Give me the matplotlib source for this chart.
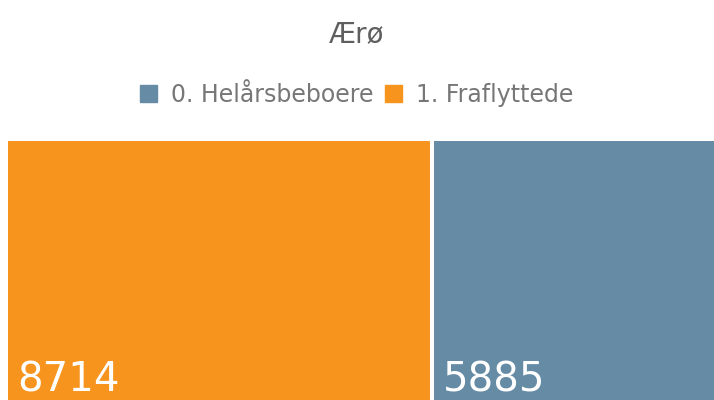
import matplotlib.pyplot as plt
import matplotlib.patches as mpatches
import numpy as np

title = "Ærø"
categories = ["1. Fraflyttede", "0. Helårsbeboere"]
values = [8714, 5885]
colors = ["#F7941D", "#668BA5"]
legend_order = ["0. Helårsbeboere", "1. Fraflyttede"]

W, H = 714, 400
fig = plt.figure(figsize=(W / 100, H / 100), dpi=100)
plt.rcParams['font.family'] = ['DejaVu Sans']

# treemap area (runs a little past the right edge of the picture)
x0, x1 = 6, 720
y0, y1 = -4, 139
ax = fig.add_axes([x0 / W, y0 / H, (x1 - x0) / W, (H - y1 - y0) / H])
ax.set_xlim(0, sum(values))
ax.set_ylim(0, 1)
ax.axis('off')

lefts = np.concatenate([[0], np.cumsum(values)[:-1]])
ax.bar(lefts, [1] * len(values), width=values, align='edge', color=colors,
       edgecolor='white', linewidth=2.9)

for left, v in zip(lefts, values):
    ax.annotate(str(v), xy=(left, 0), xycoords='data',
                xytext=(11, 12), textcoords='offset pixels',
                color='white', fontsize=29, ha='left', va='baseline')

fig.text(0.5, 1 - 34 / H, title, ha='center', va='center',
         fontsize=20, color='#5f5f5f')

handles = [mpatches.Patch(color=colors[categories.index(c)], label=c)
           for c in legend_order]
fig.legend(handles=handles, loc='center', bbox_to_anchor=(0.5, 1 - 95 / H),
           ncol=2, frameon=False, fontsize=17, labelcolor='#777777',
           handlelength=0.7, handleheight=0.7, handletextpad=0.6,
           columnspacing=0.5)

fig.savefig('out.png', dpi=100)
